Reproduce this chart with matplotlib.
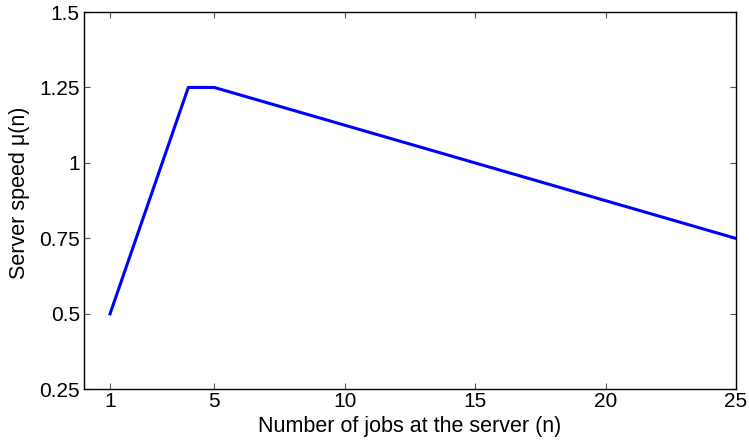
import matplotlib
matplotlib.use("Agg")
import matplotlib.pyplot as plt

n_jobs = [1, 4, 5, 25]
speed = [0.5, 1.25, 1.25, 0.75]
xticks = [1, 5, 10, 15, 20, 25]
yticks = [0.25, 0.5, 0.75, 1.0, 1.25, 1.5]
ytick_labels = ["0.25", "0.5", "0.75", "1", "1.25", "1.5"]

plt.rcParams['font.family'] = ['Liberation Sans', 'DejaVu Sans']

fs = 15
fig = plt.figure(figsize=(7.49, 4.40), dpi=100)
ax = fig.add_axes([0.1121, 0.1152, 0.8705, 0.8575])
ax.plot(n_jobs, speed, color='#0000ff', linewidth=2.2)
ax.set_xlim(0, 25)
ax.set_ylim(0.25, 1.5)
ax.set_xticks(xticks)
ax.set_yticks(yticks)
ax.set_yticklabels(ytick_labels)
ax.tick_params(direction='in', length=4.3, width=0.8, color='#555555',
               labelsize=fs, top=True, right=True)
ax.tick_params(axis='x', pad=2)
ax.tick_params(axis='y', pad=3)
for s in ax.spines.values():
    s.set_linewidth(1.0)
ax.set_xlabel("Number of jobs at the server (n)", fontsize=15.5)
ax.set_ylabel("Server speed μ(n)", fontsize=15.5)
ax.xaxis.set_label_coords(0.5, -0.07)
ax.yaxis.set_label_coords(-0.083, 0.522)
fig.savefig("out.png", dpi=100)
